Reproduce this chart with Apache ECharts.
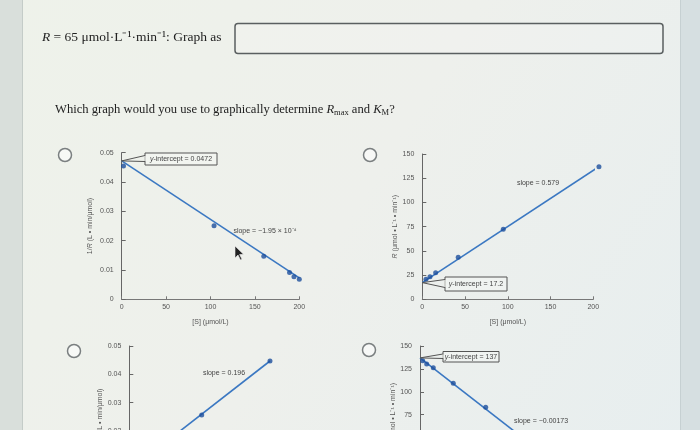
<!DOCTYPE html>
<html><head><meta charset="utf-8">
<script src="https://cdn.jsdelivr.net/npm/echarts@6.0.0/dist/echarts.min.js"></script>
<style>html,body{margin:0;padding:0;background:#edf1ec}#c{width:700px;height:430px}</style>
</head><body><div id="c"></div>
<script>
// ---- Data ----
// Graph A: 1/R vs [S]
const sA = [2, 104, 160, 189, 194, 200];
const invRA = [0.0455, 0.0251, 0.0147, 0.0091, 0.0077, 0.0068];
const fitAx = [0, 200];
const fitAy = [0.0472, 0.0073];
// Graph B: R vs [S]
const sB = [4.3, 9, 15.6, 42, 94.7, 206.6];
const RB = [20.6, 23.4, 27.5, 43.3, 72.2, 136.9];
const fitBx = [0, 206.6];
const fitBy = [17.2, 136.9];
// Graph C: 1/R vs 1/[S]
const invSC = [0.1017, 0.1976];
const invRC = [0.0256, 0.0447];
const fitCx = [0, 0.1976];
const fitCy = [0.0060, 0.0447];
// Graph D
const xD = [1213, 3011, 5977, 14965, 29526];
const RD = [134, 130.3, 126.3, 109.3, 83.1];
const fitDx = [0, 45000];
const fitDy = [137, 52];
// tick labels
const sTicks = [0, 50, 100, 150, 200];
const intercepts = {A: 0.0472, B: 17.2, D: 137};

const pair = (xs, ys) => xs.map((x, i) => [x, ys[i]]);
const tickFont = {fontFamily: 'Liberation Sans', fontSize: 7, color: '#555'};
const nameFont = {fontFamily: 'Liberation Sans', fontSize: 7, color: '#555',
  rich: {i: {fontFamily: 'Liberation Sans', fontSize: 7, fontStyle: 'italic', color: '#555'}}};

function xAx(gi, min, max, interval, name, showLabel) {
  return {gridIndex: gi, type: 'value', min, max, interval,
    name, nameLocation: 'middle', nameGap: 19, nameTextStyle: nameFont,
    axisLine: {lineStyle: {color: '#777', width: 1}},
    axisTick: {inside: true, length: 3, lineStyle: {color: '#777'}},
    axisLabel: Object.assign({show: showLabel, margin: 4}, tickFont),
    splitLine: {show: false}};
}
function yAx(gi, min, max, interval, name, gap) {
  return {gridIndex: gi, type: 'value', min, max, interval,
    name, nameLocation: 'middle', nameGap: gap, nameTextStyle: nameFont,
    axisLine: {show: true, lineStyle: {color: '#666', width: 1}},
    axisTick: {show: true, inside: true, length: 4, lineStyle: {color: '#666'}},
    axisLabel: Object.assign({margin: 8}, tickFont),
    splitLine: {show: false}};
}
const ptStyle = {color: '#1d4f9c'};
const lnStyle = {color: '#3b78c2', width: 1.6};
function series(gi, pts, fit) {
  return [
    {type: 'line', xAxisIndex: gi, yAxisIndex: gi, data: fit, showSymbol: false,
     lineStyle: lnStyle, clip: false, silent: true, z: 2},
    {type: 'scatter', xAxisIndex: gi, yAxisIndex: gi, data: pts, symbolSize: 5,
     itemStyle: ptStyle, clip: false, z: 3}
  ];
}
function grid(left, top, width, height) {
  return {left, top, width, height, containLabel: false, outerBoundsMode: 'none'};
}

const chart = echarts.init(document.getElementById('c'), null, {renderer: 'canvas'});
const option = {
  animation: false,
  backgroundColor: {type: 'linear', x: 0, y: 0, x2: 1, y2: 1,
    colorStops: [{offset: 0, color: '#eef2ea'}, {offset: 0.5, color: '#eef0ec'}, {offset: 1, color: '#e7eeef'}]},
  grid: [
    grid(121.7, 152.7, 177.6, 146.6),
    grid(422.3, 154, 171, 145.3),
    grid(129.3, 346, 178, 141.5),
    grid(420, 346, 178, 137.4)
  ],
  xAxis: [
    xAx(0, 0, 200, 50, '[S] (μmol/L)', true),
    xAx(1, 0, 200, 50, '[S] (μmol/L)', true),
    xAx(2, 0, 0.25, 0.05, '', true),
    xAx(3, 0, 80000, 20000, '', true)
  ],
  yAxis: [
    yAx(0, 0, 0.05, 0.01, '1/{i|R} (L • min/μmol)', 28),
    yAx(1, 0, 150, 25, '{i|R} (μmol • L⁻¹ • min⁻¹)', 22),
    yAx(2, 0, 0.05, 0.01, '1/{i|R} (L • min/μmol)', 23),
    yAx(3, 0, 150, 25, '{i|R} (μmol • L⁻¹ • min⁻¹)', 22)
  ],
  series: [].concat(
    series(0, pair(sA, invRA), pair(fitAx, fitAy)),
    series(1, pair(sB, RB), pair(fitBx, fitBy)),
    series(2, pair(invSC, invRC), pair(fitCx, fitCy)),
    series(3, pair(xD, RD), pair(fitDx, fitDy))
  )
};
chart.setOption(option);

const serif = 'Liberation Serif';
const small = 'Liberation Sans';
function callout(id, gi, yVal, bx, by, bw, bh, txt) {
  const tip = chart.convertToPixel({gridIndex: gi}, [0, yVal]);
  return [
    {type: 'rect', id: id + 'b', shape: {x: bx, y: by, width: bw, height: bh},
     style: {fill: 'rgba(250,252,248,0.35)', stroke: '#555', lineWidth: 1}, z: 20},
    {type: 'polyline', id: id + 'p', shape: {points: [[bx, by + 2.5], [tip[0], tip[1]], [bx, by + bh - 3.5]]},
     style: {stroke: '#555', lineWidth: 1, fill: null}, z: 21},
    {type: 'line', id: id + 'g', shape: {x1: bx, y1: by + 3, x2: bx, y2: by + bh - 4},
     style: {stroke: '#eef1ec', lineWidth: 1.2}, z: 21},
    {type: 'text', id: id + 't', x: bx + bw / 2, y: by + bh / 2 + 0.5,
     style: {text: txt, align: 'center', verticalAlign: 'middle', font: '7px ' + small, fill: '#444',
       rich: {i: {fontStyle: 'italic', fontSize: 7, fontFamily: small, fill: '#444'}}}, z: 22}
  ];
}
function radio(id, cx, cy) {
  return {type: 'circle', id, shape: {cx, cy, r: 6.5},
    style: {fill: 'rgba(255,255,255,0.55)', stroke: '#7a7f80', lineWidth: 1.5}, z: 10};
}
function label(id, x, y, txt, align) {
  return {type: 'text', id, x, y, style: {text: txt, align: align || 'center', verticalAlign: 'middle',
    font: '7px ' + small, fill: '#444'}, z: 15};
}

const graphics = [
  {type: 'rect', id: 'lb', shape: {x: 0, y: 0, width: 22, height: 430}, style: {fill: '#d9dfdb'}, z: 0},
  {type: 'line', id: 'lbl', shape: {x1: 22.5, y1: 0, x2: 22.5, y2: 430}, style: {stroke: '#c4ccc8', lineWidth: 1}, z: 0},
  {type: 'rect', id: 'rb', shape: {x: 680, y: 0, width: 20, height: 430}, style: {fill: '#d6dfe1'}, z: 0},
  {type: 'line', id: 'rbl', shape: {x1: 680.5, y1: 0, x2: 680.5, y2: 430}, style: {stroke: '#c6d0d2', lineWidth: 1}, z: 0},
  {type: 'text', id: 'top', x: 42, y: 37,
   style: {text: '{i|R} = 65 μmol·L⁻¹·min⁻¹: Graph as', verticalAlign: 'middle', font: '13.5px ' + serif, fill: '#222',
     rich: {i: {fontStyle: 'italic', fontFamily: serif, fontSize: 13.5, fill: '#222'}}}, z: 10},
  {type: 'rect', id: 'inp', shape: {x: 235, y: 23.5, width: 428, height: 30, r: 3},
   style: {fill: 'rgba(255,255,255,0.12)', stroke: '#5a5f60', lineWidth: 1.5}, z: 10},
  {type: 'text', id: 'q', x: 55, y: 110,
   style: {text: 'Which graph would you use to graphically determine {i|R}{s|max} and {i|K}{s|M}?',
     verticalAlign: 'middle', font: '12.6px ' + serif, fill: '#222',
     rich: {i: {fontStyle: 'italic', fontFamily: serif, fontSize: 12.6, fill: '#222'},
            s: {fontFamily: serif, fontSize: 8.5, fill: '#222', verticalAlign: 'bottom', padding: [6, 0, 0, 0]}}}, z: 10},
  radio('r1', 65, 155), radio('r2', 370, 155), radio('r3', 74, 351), radio('r4', 369, 350),
  label('sl1', 265, 231, 'slope = −1.95 × 10⁻⁴'),
  label('sl2', 538, 183, 'slope = 0.579'),
  label('sl3', 224, 373, 'slope = 0.196'),
  label('sl4', 514, 421, 'slope = −0.00173', 'left'),
  {type: 'polygon', id: 'cur', shape: {points: [[235, 246], [235, 258], [238, 255], [240.5, 260], [242, 259.3], [239.6, 254.5], [243.5, 254.3]]},
   style: {fill: '#222', stroke: '#eee', lineWidth: 0.6}, z: 30}
].concat(
  callout('cA', 0, intercepts.A, 145, 153, 72, 12, '{i|y}-intercept = 0.0472'),
  callout('cB', 1, intercepts.B, 445, 277, 62, 14, '{i|y}-intercept = 17.2'),
  callout('cD', 3, intercepts.D, 443, 351.5, 56, 10.5, '{i|y}-intercept = 137')
);
chart.setOption({graphic: graphics});
</script></body></html>
